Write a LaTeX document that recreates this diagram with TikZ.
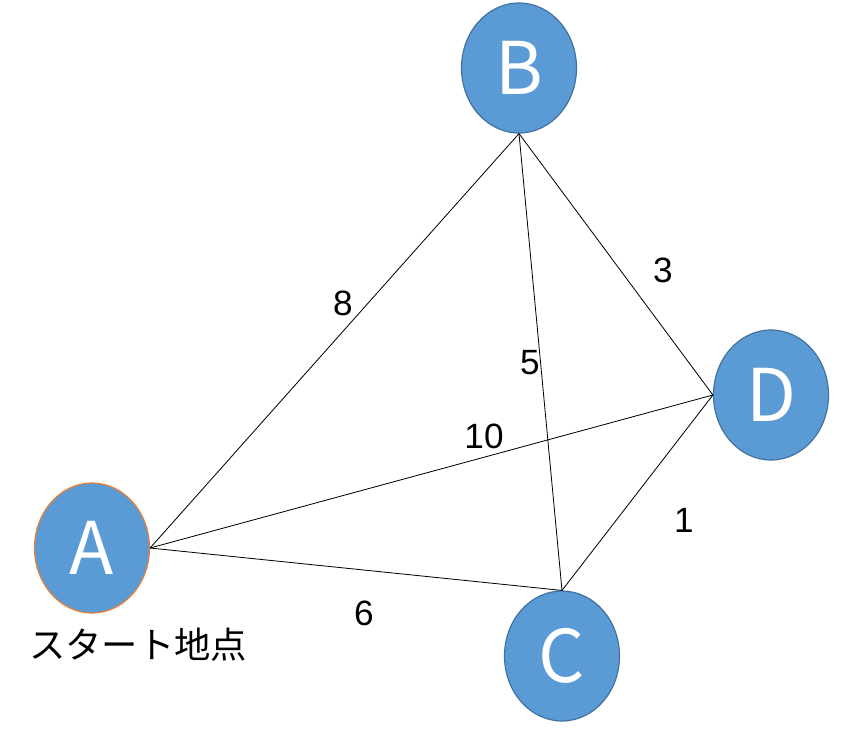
\documentclass[tikz,border=0pt]{standalone}
\usepackage{fontspec}
\setmainfont{Liberation Sans}
\newfontfamily\jpfont{Noto Sans CJK JP}
\usetikzlibrary{shapes.geometric}
\definecolor{nodeblue}{HTML}{5B9BD5}
\definecolor{nodeedge}{HTML}{41719C}
\definecolor{startedge}{HTML}{ED7D31}
\tikzstyle{vertex} = [ellipse, draw=nodeedge, fill=nodeblue, line width=1pt,
    minimum width=3.45cm, minimum height=3.9cm, inner sep=0pt, text=white,
    font=\jpfont\fontsize{62}{62}\selectfont]
\tikzstyle{start} = [vertex, draw=startedge]
\tikzstyle{line} = [draw, line width=0.7pt]
\tikzstyle{weight} = [font=\fontsize{30}{30}\selectfont]
\tikzstyle{caption} = [font=\jpfont\fontsize{31}{31}\selectfont]

\begin{document}
\begin{tikzpicture}[x=0.03cm, y=-0.03cm]
            \useasboundingbox (0,0) rectangle (843,745);
            % Place nodes
            \node [start] (A) at (92,548) {A};
            \node [vertex] (B) at (519,68) {B};
            \node [vertex] (C) at (562,656) {C};
            \node [vertex] (D) at (771,395) {D};
            \node [caption] (startlbl) at (138,645) {スタート地点};

            % Draw edges
            \path [line] (A.east) -- (B.south);
            \path [line] (A.east) -- (D.west);
            \path [line] (A.east) -- (C.north);
            \path [line] (B.south) -- (C.north);
            \path [line] (B.south) -- (D.west);
            \path [line] (C.north) -- (D.west);

            % Weights
            \node [weight] (wab) at (343,303) {8};
            \node [weight] (wad) at (484,436) {10};
            \node [weight] (wac) at (364,613) {6};
            \node [weight] (wbc) at (530,363) {5};
            \node [weight] (wbd) at (663,270) {3};
            \node [weight] (wcd) at (684,520) {1};

        \end{tikzpicture}
\end{document}
